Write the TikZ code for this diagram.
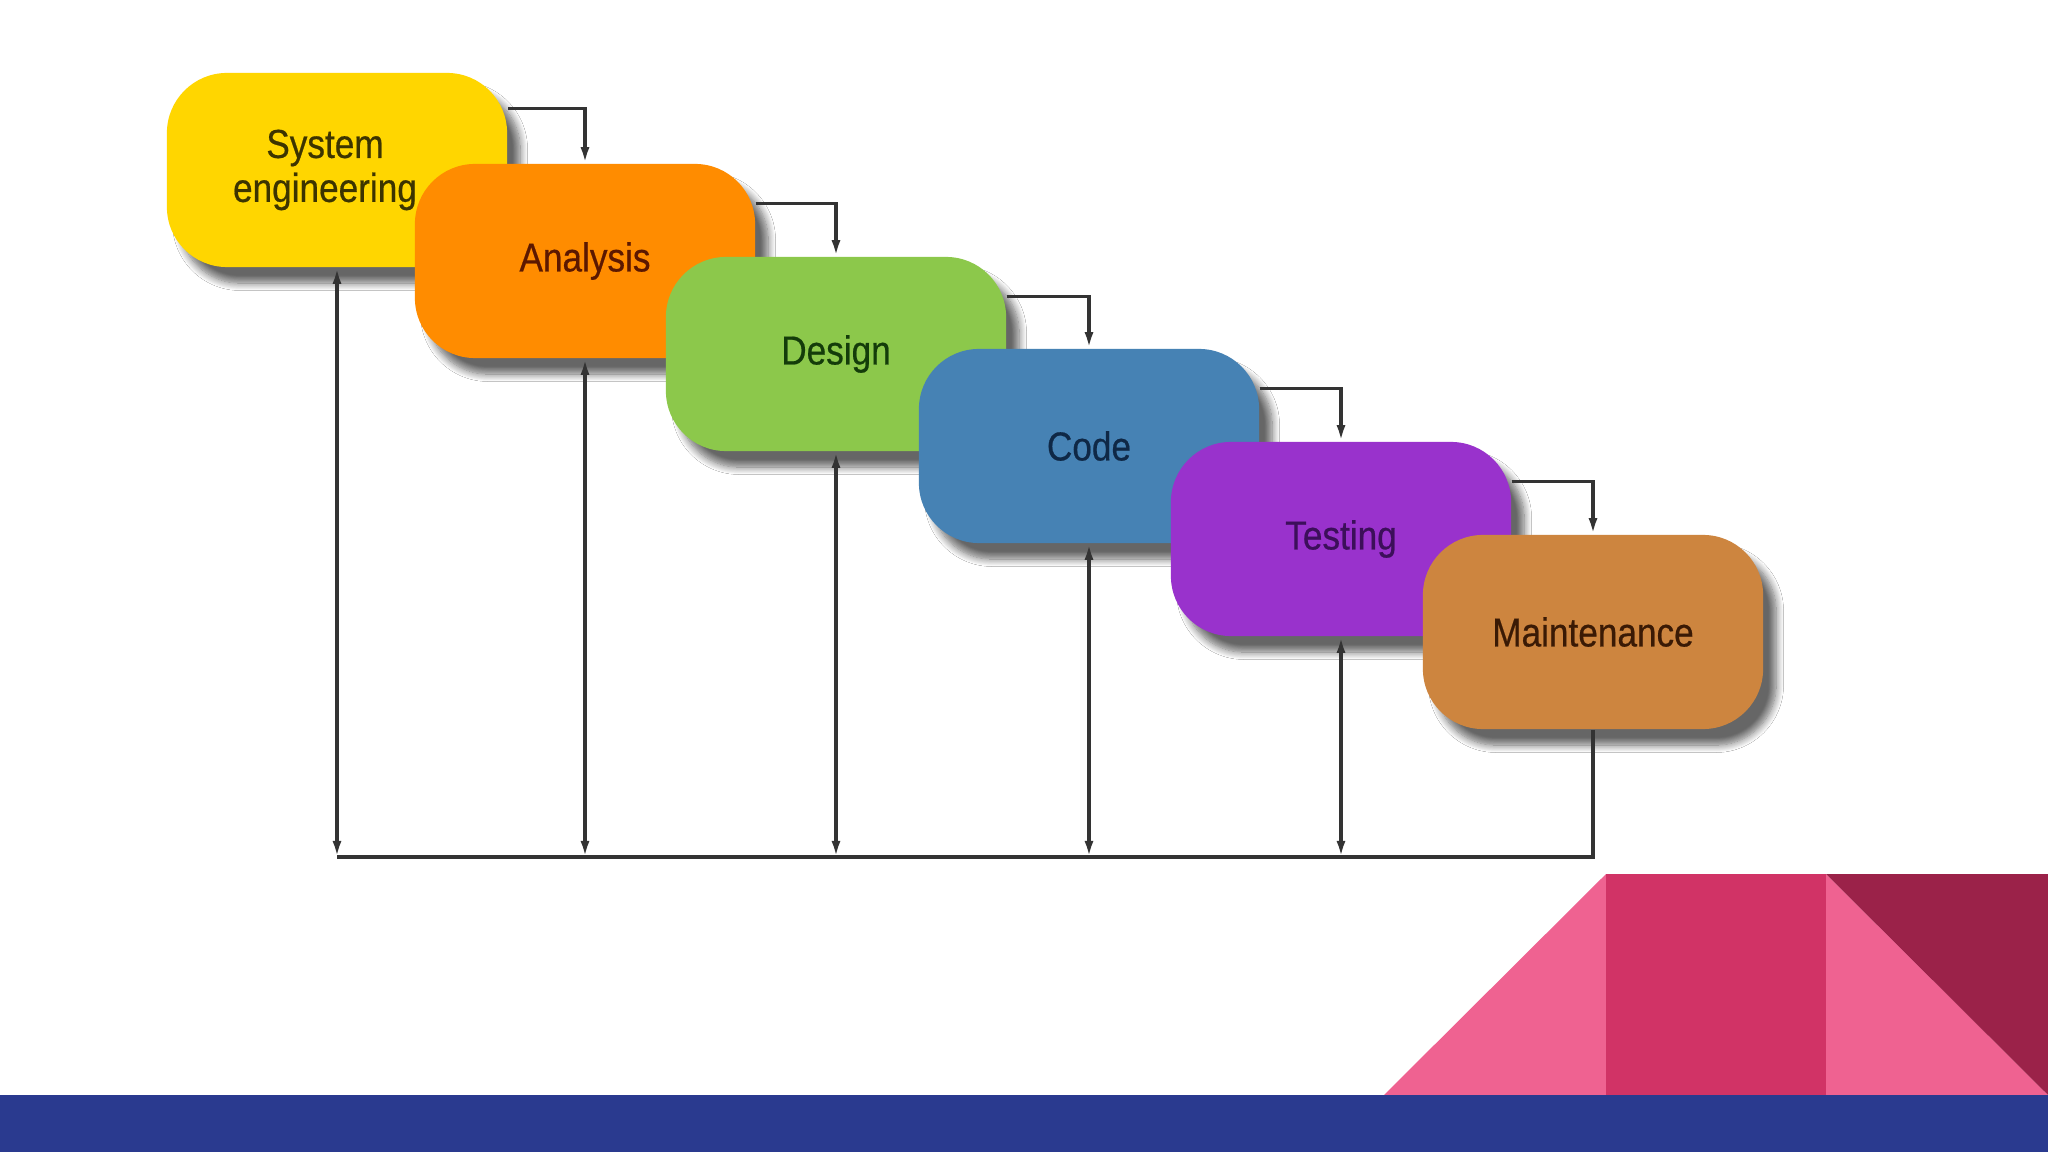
\documentclass[tikz,border=0pt]{standalone}
\usepackage{fontspec}
\setmainfont{Liberation Sans}[FakeStretch=0.87,FakeBold=0.5]
\usepackage{xcolor}
\usetikzlibrary{positioning}
\usetikzlibrary{shapes,arrows.meta,shadows.blur}

\definecolor{seyellow}{RGB}{255,214,0}
\definecolor{anorange}{RGB}{255,140,0}
\definecolor{degreen}{RGB}{140,200,75}
\definecolor{coblue}{RGB}{70,130,180}
\definecolor{tepurple}{RGB}{153,50,204}
\definecolor{mtbrown}{RGB}{205,133,63}
\definecolor{setext}{RGB}{60,52,0}
\definecolor{antext}{RGB}{92,24,0}
\definecolor{detext}{RGB}{20,60,10}
\definecolor{cotext}{RGB}{15,40,70}
\definecolor{tetext}{RGB}{60,15,90}
\definecolor{mttext}{RGB}{58,26,5}
\definecolor{pinklight}{RGB}{239,98,145}
\definecolor{pinkmid}{RGB}{209,51,102}
\definecolor{pinkdark}{RGB}{155,34,73}
\definecolor{barblue}{RGB}{42,58,143}

\begin{document}
\begin{tikzpicture}[x=0.01cm,y=-0.01cm,
  phase/.style={rectangle, rounded corners=0.6cm, minimum width=3.4cm,
    minimum height=1.94cm, align=center, font=\fontsize{11.5}{12.5}\selectfont,
    blur shadow={shadow xshift=0.13cm, shadow yshift=-0.16cm,
      shadow blur steps=10, shadow opacity=60}},
  flow/.style={draw=black!80, line width=0.9pt},
  >={Latex[length=0.16cm,width=0.09cm]}]
  \fill[white] (0,0) rectangle (2048,1152);

  % phases
  \node[phase, fill=seyellow, text=setext] (se) at (337,170)
    {System\hspace*{0.24cm}\\engineering\hspace*{0.24cm}};
  \node[phase, fill=anorange, text=antext] (an) at (585,261) {Analysis};
  \node[phase, fill=degreen, text=detext] (de) at (836,354) {Design};
  \node[phase, fill=coblue, text=cotext] (co) at (1089,446) {Code};
  \node[phase, fill=tepurple, text=tetext] (te) at (1341,539) {Testing};
  \node[phase, fill=mtbrown, text=mttext] (mt) at (1593,632) {Maintenance};

  % steps down the fall
  \draw[flow,->] ([yshift=-0.36cm]se.north east) -| (an.north);
  \draw[flow,->] ([yshift=-0.4cm]an.north east) -| (de.north);
  \draw[flow,->] ([yshift=-0.4cm]de.north east) -| (co.north);
  \draw[flow,->] ([yshift=-0.4cm]co.north east) -| (te.north);
  \draw[flow,->] ([yshift=-0.4cm]te.north east) -| (mt.north);

  % feedback to every phase
  \coordinate (g1) at (se.south |- 0,857);
  \coordinate (g2) at (an.south |- 0,857);
  \coordinate (g3) at (de.south |- 0,857);
  \coordinate (g4) at (co.south |- 0,857);
  \coordinate (g5) at (te.south |- 0,857);
  \coordinate (g6) at (mt.south |- 0,857);
  \draw[flow,<->] (se.south) -- (g1);
  \draw[flow,<->] (an.south) -- (g2);
  \draw[flow,<->] (de.south) -- (g3);
  \draw[flow,<->] (co.south) -- (g4);
  \draw[flow,<->] (te.south) -- (g5);
  \draw[flow] (mt.south) -- (g6) -- (g1);

  % slide decoration
  \fill[pinklight] (1384,1095) -- (1606,874) -- (1606,1095) -- cycle;
  \fill[pinkmid] (1606,874) rectangle (1826,1095);
  \fill[pinklight] (1826,874) -- (2048,1095) -- (1826,1095) -- cycle;
  \fill[pinkdark] (1826,874) -- (2048,874) -- (2048,1095) -- cycle;
  \fill[barblue] (0,1095) rectangle (2048,1152);
\end{tikzpicture}
\end{document}
